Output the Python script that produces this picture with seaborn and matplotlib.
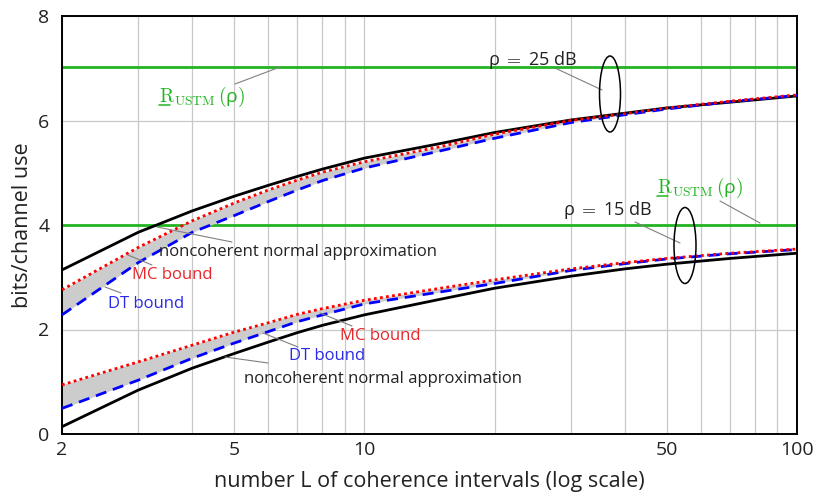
import numpy as np
import pandas as pd
import matplotlib
matplotlib.use("Agg")
import matplotlib.pyplot as plt
import seaborn as sns
from matplotlib.patches import Ellipse
from matplotlib.ticker import FixedLocator, NullFormatter, FixedFormatter

# ---------------- data ----------------
L = [2, 3, 4, 5, 6, 7, 8, 10, 15, 20, 30, 40, 50, 70, 100]

na25 = [3.14, 3.86, 4.27, 4.55, 4.76, 4.93, 5.07, 5.28, 5.56, 5.77, 6.01, 6.14, 6.24, 6.35, 6.47]
mc25 = [2.76, 3.57, 4.08, 4.42, 4.67, 4.86, 5.01, 5.21, 5.50, 5.74, 6.00, 6.13, 6.24, 6.37, 6.49]
dt25 = [2.28, 3.28, 3.86, 4.18, 4.45, 4.67, 4.85, 5.09, 5.42, 5.66, 5.96, 6.11, 6.22, 6.36, 6.48]

na15 = [0.14, 0.84, 1.26, 1.54, 1.76, 1.94, 2.08, 2.28, 2.58, 2.79, 3.02, 3.16, 3.25, 3.36, 3.46]
mc15 = [0.94, 1.38, 1.70, 1.95, 2.13, 2.29, 2.40, 2.56, 2.79, 2.95, 3.16, 3.28, 3.36, 3.46, 3.54]
dt15 = [0.49, 1.03, 1.45, 1.74, 1.96, 2.15, 2.28, 2.49, 2.72, 2.88, 3.13, 3.26, 3.35, 3.45, 3.53]

rustm = [7.02, 4.00]   # R_USTM(rho) for 25 dB and 15 dB

xticks_major = [2, 5, 10, 50, 100]
xticks_minor = [3, 4, 6, 7, 8, 9, 20, 30, 40, 60, 70, 80, 90]
yticks = [0, 2, 4, 6, 8]

# ---------------- style ----------------
sns.set_theme(style="white")
plt.rcParams["font.family"] = ["Open Sans", "DejaVu Sans"]
plt.rcParams["mathtext.fontset"] = "cm"

GREEN = "#22b422"
RED_L = "#ff0000"
BLUE_L = "#0000ff"
RED_T = "#e8262a"
BLUE_T = "#2a2ae6"
LEAD = "#808080"
TXT = "#222222"

fig, ax = plt.subplots(figsize=(8.16, 4.95), dpi=100)
fig.subplots_adjust(left=62/816, right=797/816, top=1-16/495, bottom=1-434/495)

ax.set_xscale("log")
ax.set_xlim(2, 100)
ax.set_ylim(0, 8)

# grid / ticks
ax.xaxis.set_major_locator(FixedLocator(xticks_major))
ax.xaxis.set_major_formatter(FixedFormatter([str(v) for v in xticks_major]))
ax.xaxis.set_minor_locator(FixedLocator(xticks_minor))
ax.xaxis.set_minor_formatter(NullFormatter())
ax.set_yticks(yticks)
ax.grid(True, which="both", axis="x", color="#c8c8c8", lw=0.9)
ax.grid(True, which="major", axis="y", color="#c8c8c8", lw=0.9)
ax.set_axisbelow(True)
ax.tick_params(axis="both", which="both", direction="in", length=5, color="#888888",
               labelsize=14, colors=TXT)
ax.tick_params(axis="x", which="both", pad=5)
ax.tick_params(axis="y", pad=9)
for sp in ax.spines.values():
    sp.set_color("black")
    sp.set_linewidth(1.4)

# green horizontal lines
for r in rustm:
    ax.axhline(r, color=GREEN, lw=2, zorder=2)

# shaded regions between MC and DT bounds
ax.fill_between(L, mc25, dt25, color="#cccccc", lw=0, zorder=2)
ax.fill_between(L, mc15, dt15, color="#cccccc", lw=0, zorder=2)

# curves
for na, mc, dt in [(na25, mc25, dt25), (na15, mc15, dt15)]:
    sns.lineplot(x=L, y=na, ax=ax, color="black", lw=2, zorder=3)
    sns.lineplot(x=L, y=dt, ax=ax, color=BLUE_L, lw=2, zorder=4,
                 linestyle=(0, (4, 2.5)))
    sns.lineplot(x=L, y=mc, ax=ax, color=RED_L, lw=2, zorder=5,
                 linestyle=(0, (1, 1.2)))

ax.set_xlabel("number L of coherence intervals (log scale)", fontsize=15.5, color=TXT, labelpad=9)
ax.set_ylabel("bits/channel use", fontsize=15.5, color=TXT, labelpad=4)

# ---------------- annotations (pixel positions -> axes fraction) ----------------
def P(px, py):
    return ((px - 62) / 735, (434 - py) / 418)

def lead(p0, p1):
    a, b = P(*p0), P(*p1)
    ax.plot([a[0], b[0]], [a[1], b[1]], transform=ax.transAxes, color=LEAD, lw=0.8, zorder=6)

def txt(px, py, s, color, ha="left", size=12):
    x, y = P(px, py)
    ax.text(x, y, s, transform=ax.transAxes, color=color, ha=ha, va="center", fontsize=size, zorder=7)

RLAB = r"$\mathrm{R}_{\mathrm{USTM}}\,($" + "ρ" + r"$)$"

# R_USTM labels
txt(159, 97, RLAB, GREEN, size=14)
lead((235, 84), (280, 67))
txt(657, 188, RLAB, GREEN, size=14)
lead((720, 201), (760, 223))
for (x0, x1, y) in [(159, 170, 105), (657, 668, 196)]:
    a, b = P(x0, y), P(x1, y)
    ax.plot([a[0], b[0]], [a[1], b[1]], transform=ax.transAxes, color=GREEN, lw=1.1, zorder=7)

# rho labels + ellipses
txt(533, 60, "ρ $=$ 25 dB", TXT, ha="center", size=13)
lead((555, 68), (602, 90))
txt(608, 210, "ρ $=$ 15 dB", TXT, ha="center", size=13)
lead((635, 222), (680, 243))
for (cx, cy, w, h) in [(610, 94, 21, 76), (685, 245.5, 22, 76)]:
    ax.add_patch(Ellipse(P(cx, cy), w / 735, h / 418, transform=ax.transAxes,
                         fill=False, edgecolor="black", lw=1.1, zorder=7))

# upper group labels
txt(159, 252, "noncoherent normal approximation", TXT)
lead((157, 227), (232, 242))
txt(132, 275, "MC bound", RED_T)
lead((128, 255), (152, 265))
txt(108, 304, "DT bound", BLUE_T)
lead((105, 287), (121, 293))

# lower group labels
txt(340, 336, "MC bound", RED_T)
lead((320, 313), (352, 326))
txt(289, 356, "DT bound", BLUE_T)
lead((263, 333), (298, 347))
txt(244, 379, "noncoherent normal approximation", TXT)
lead((225, 357), (268, 363))

fig.savefig("out.png", dpi=100)
